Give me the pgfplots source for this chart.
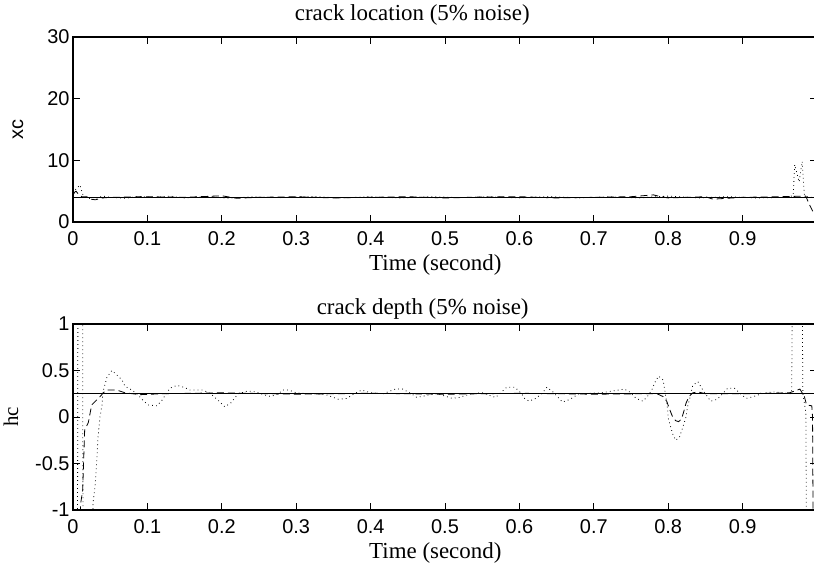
\documentclass[border=0pt]{standalone}
\usepackage{fontspec}
\setmainfont{Liberation Serif}
\newfontfamily\arial{Liberation Sans}
\usepackage{pgfplots}
\pgfplotsset{compat=1.18}
\pgfplotsset{
 mystyle/.style={
  scale only axis, width=744bp, xmin=0, xmax=1,
  xtick={0,0.1,0.2,0.3,0.4,0.5,0.6,0.7,0.8,0.9},
  xticklabels={0,0.1,0.2,0.3,0.4,0.5,0.6,0.7,0.8,0.9},
  tick pos=both, tick align=inside, major tick length=7bp,
  every tick/.style={black, line width=0.8bp},
  axis line style={black, line width=1.2bp},
  ticklabel style={font=\arial\fontsize{20}{24}\selectfont},
  xticklabel style={yshift=-6bp},
  title style={font=\fontsize{23}{27}\selectfont, anchor=base},
  xlabel style={font=\fontsize{23}{27}\selectfont, at={(axis description cs:0.487,0)}, anchor=base},
  ylabel style={at={(axis description cs:-0.074,0.5)}, anchor=center},
  solidl/.style={black, line width=0.8bp},
  dashl/.style={black, line width=0.8bp, dash pattern=on 7bp off 4bp},
  dotl/.style={black, line width=0.8bp, dash pattern=on 0.8bp off 3.2bp},
 }
}
\begin{document}
\begin{tikzpicture}
\path[use as bounding box] (0,0) rectangle (814bp,563bp);
\clip (0,0) rectangle (814bp,563bp);
% ---------- top axis ----------
\begin{axis}[mystyle, at={(73bp,341bp)}, anchor=south west, height=185bp,
  ymin=0, ymax=30, ytick={0,10,20,30}, yticklabels={0,10,20,30},
  title={crack location (5\% noise)}, title style={at={(axis description cs:0.456,1)}, yshift=11bp},
  xlabel={Time (second)}, xlabel style={yshift=-49bp},
  ylabel={\arial\fontsize{20}{24}\selectfont xc}]
\addplot[solidl] coordinates {(0,4) (1,4)};
\addplot[dashl] coordinates {
(0,4.6) (0.004,5.0) (0.008,4.4) (0.012,4.1) (0.02,4.05) (0.024,3.7) (0.03,3.6) (0.04,3.9)
(0.05,4.0) (0.1,4.1) (0.15,4.0) (0.2,4.25) (0.22,3.85) (0.25,4.0) (0.3,4.1) (0.35,3.9)
(0.4,4.0) (0.45,4.1) (0.5,3.9) (0.55,4.05) (0.6,4.1) (0.65,3.9) (0.7,4.0) (0.75,4.1)
(0.78,4.4) (0.79,4.1) (0.8,3.9) (0.85,4.1) (0.86,3.7) (0.9,4.0) (0.95,4.1) (0.985,4.2)
(0.989,3.0) (0.994,1.8) (1.0,1.2)};
\addplot[dotl] coordinates {
(0,4.0) (0.003,5.2) (0.006,5.6) (0.0094,6.0) (0.012,4.9) (0.0134,4.4) (0.02,4.0) (0.0255,3.6)
(0.032,3.9) (0.04,4.2) (0.05,4.0) (0.07,3.85) (0.09,4.15) (0.11,4.0) (0.13,4.2) (0.15,3.9)
(0.18,4.1) (0.21,3.85) (0.24,4.1) (0.28,3.95) (0.32,4.15) (0.36,3.9) (0.4,4.1) (0.44,3.9)
(0.48,4.1) (0.52,3.95) (0.56,4.1) (0.6,3.9) (0.64,4.15) (0.68,3.9) (0.72,4.1) (0.76,3.9)
(0.8,4.2) (0.84,3.9) (0.88,4.1) (0.92,3.9) (0.96,4.0) (0.968,4.3) (0.970,9.3) (0.976,6.5)
(0.980,9.8) (0.983,4.5) (0.988,4.0) (1.0,4.0)};
\end{axis}
% ---------- bottom axis ----------
\begin{axis}[mystyle, at={(73bp,53bp)}, anchor=south west, height=186bp,
  ymin=-1, ymax=1, ytick={-1,-0.5,0,0.5,1}, yticklabels={-1,-0.5,0,0.5,1},
  title={crack depth (5\% noise)}, title style={at={(axis description cs:0.47,1)}, yshift=4bp},
  xlabel={Time (second)}, xlabel style={yshift=-48bp},
  ylabel={\fontsize{21}{25}\selectfont hc}, ylabel style={yshift=7bp}]
\addplot[solidl] coordinates {(0,0.25) (1,0.25)};
\addplot[dashl] coordinates {
(0,-1.5) (0.009,-1.2) (0.0103,-0.93) (0.013,-0.79) (0.0138,-0.59) (0.0148,-0.35) (0.0157,-0.14)
(0.0206,-0.06) (0.0251,0.13) (0.0353,0.21) (0.0443,0.29) (0.0587,0.29) (0.0699,0.26) (0.09,0.24)
(0.12,0.25) (0.2,0.26) (0.3,0.245) (0.4,0.255) (0.5,0.245) (0.6,0.255) (0.7,0.245) (0.77,0.25)
(0.785,0.25) (0.793,0.22) (0.798,0.17) (0.802,0.08) (0.806,0.0) (0.810,-0.04) (0.814,-0.05)
(0.818,-0.02) (0.821,0.06) (0.824,0.15) (0.828,0.22) (0.833,0.26) (0.84,0.27) (0.85,0.25)
(0.9,0.25) (0.963,0.26) (0.977,0.30) (0.983,0.22) (0.986,0.13) (0.993,0.12) (0.994,0.0) (0.995,-1.5)};
\addplot[dotl] coordinates {
(0,-1.5) (0.006,-1.5) (0.0067,1.5) (0.013,1.5) (0.0134,-1.5) (0.026,-1.5) (0.0269,-0.93)
(0.0296,-0.75) (0.0322,-0.43) (0.0336,-0.22) (0.0363,0.0) (0.039,0.13) (0.0403,0.27) (0.0457,0.43)
(0.0524,0.5) (0.0591,0.45) (0.0658,0.40) (0.0699,0.33) (0.0793,0.29) (0.087,0.24) (0.094,0.18)
(0.1008,0.13) (0.1128,0.12) (0.1196,0.18) (0.1303,0.31) (0.1397,0.34) (0.1491,0.32) (0.1572,0.29)
(0.1746,0.29) (0.185,0.25) (0.195,0.18) (0.204,0.11) (0.212,0.15) (0.222,0.25) (0.235,0.28)
(0.246,0.27) (0.256,0.24) (0.266,0.22) (0.276,0.25) (0.282,0.29) (0.29,0.29) (0.30,0.26)
(0.32,0.25) (0.34,0.24) (0.357,0.19) (0.368,0.20) (0.378,0.25) (0.388,0.29) (0.40,0.26)
(0.417,0.25) (0.433,0.30) (0.443,0.30) (0.455,0.25) (0.462,0.21) (0.48,0.24) (0.49,0.25)
(0.510,0.20) (0.519,0.21) (0.535,0.25) (0.55,0.26) (0.568,0.21) (0.583,0.32) (0.594,0.32)
(0.603,0.25) (0.607,0.20) (0.613,0.17) (0.622,0.20) (0.63,0.25) (0.637,0.32) (0.645,0.27)
(0.658,0.16) (0.668,0.19) (0.68,0.25) (0.71,0.26) (0.741,0.30) (0.748,0.27) (0.757,0.20)
(0.766,0.17) (0.772,0.22) (0.778,0.29) (0.782,0.37) (0.787,0.44) (0.793,0.40) (0.795,0.31)
(0.799,0.10) (0.800,-0.01) (0.802,-0.07) (0.806,-0.18) (0.810,-0.25) (0.815,-0.22) (0.820,-0.10)
(0.824,0.0) (0.826,0.11) (0.829,0.2) (0.833,0.34) (0.840,0.38) (0.845,0.31) (0.85,0.25)
(0.857,0.17) (0.866,0.19) (0.873,0.25) (0.880,0.31) (0.889,0.31) (0.897,0.25) (0.905,0.20)
(0.915,0.22) (0.925,0.25) (0.94,0.27) (0.955,0.26) (0.965,0.25) (0.966,0.3) (0.967,1.5)
(0.980,1.5) (0.981,0.25) (0.985,0.05) (0.986,-1.5) (1.0,-1.5)};
\end{axis}
\end{tikzpicture}
\end{document}
